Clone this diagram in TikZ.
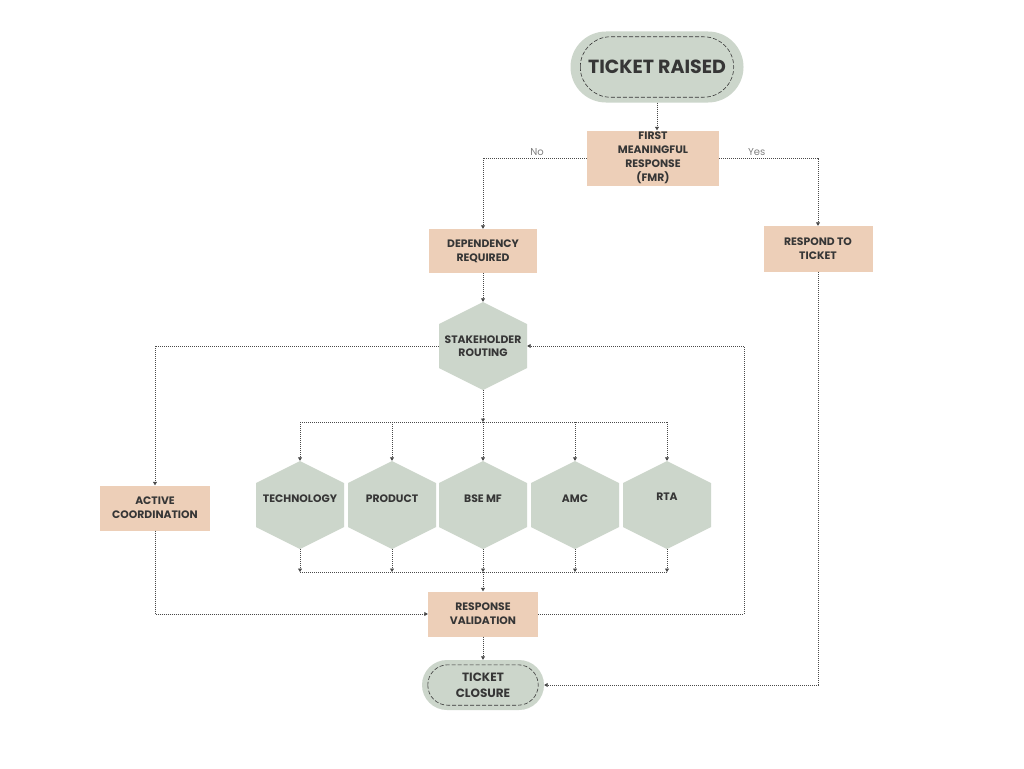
\documentclass[tikz,border=0pt]{standalone}
\usepackage{fontspec}
\setmainfont{Poppins}
\usetikzlibrary{arrows.meta}
\definecolor{peach}{HTML}{EDCFB8}
\definecolor{sage}{HTML}{CCD6CB}
\definecolor{ink}{HTML}{363636}
\definecolor{wire}{HTML}{4A4A4A}
\tikzset{
  box/.style={fill=peach, draw=none, align=center, text=ink, font=\fontsize{10.8}{14}\selectfont\bfseries, inner sep=0pt},
  hexa/.style={draw=none, minimum width=88pt, minimum height=88pt, inner sep=0pt, align=center, text=ink,
    font=\fontsize{10.8}{13.5}\selectfont\bfseries,
    path picture={\fill[sage] (path picture bounding box.north)
      -- ([yshift=-22pt]path picture bounding box.north east)
      -- ([yshift=22pt]path picture bounding box.south east)
      -- (path picture bounding box.south)
      -- ([yshift=22pt]path picture bounding box.south west)
      -- ([yshift=-22pt]path picture bounding box.north west) -- cycle;}},
  pill/.style={fill=sage, draw=none, align=center, text=ink, inner sep=0pt},
  conn/.style={draw=wire, line width=0.7pt, dash pattern=on 1pt off 1pt, -{Triangle[length=3.5pt,width=4pt]}},
  wireline/.style={draw=wire, line width=0.7pt, dash pattern=on 1pt off 1pt},
  lab/.style={text=gray, font=\fontsize{10}{11}\selectfont, inner sep=2pt}
}
\begin{document}
\begin{tikzpicture}[x=1pt,y=-1pt]
\useasboundingbox[fill=white] (0,0) rectangle (1024,768);

% terminals
\node[pill, minimum width=173pt, minimum height=71pt, rounded corners=35.5pt,
      font=\fontsize{19}{22}\selectfont\bfseries] (raised) at (657,67) {TICKET RAISED};
\draw[ink, line width=0.6pt, dash pattern=on 4pt off 2pt, rounded corners=30pt]
  ([xshift=10pt,yshift=-5.5pt]raised.north west) rectangle ([xshift=-10pt,yshift=5.5pt]raised.south east);

\node[pill, minimum width=122pt, minimum height=50pt, rounded corners=25pt,
      font=\fontsize{12}{16}\selectfont\bfseries] (closure) at (483,685) {TICKET\\CLOSURE};
\draw[ink, line width=0.6pt, dash pattern=on 4pt off 2pt, rounded corners=20pt]
  ([xshift=6pt,yshift=-5pt]closure.north west) rectangle ([xshift=-6pt,yshift=5pt]closure.south east);

% boxes
\node[box, minimum width=132pt, minimum height=55pt] (fmr) at (653,158) {FIRST\\MEANINGFUL\\RESPONSE\\(FMR)};
\node[box, minimum width=108pt, minimum height=44pt] (dep) at (483,251) {DEPENDENCY\\REQUIRED};
\node[box, minimum width=109pt, minimum height=46pt] (respond) at (818,249) {RESPOND TO\\TICKET};
\node[box, minimum width=110pt, minimum height=45pt] (active) at (155,508) {ACTIVE\\COORDINATION};
\node[box, minimum width=110pt, minimum height=45pt] (resp) at (483,614) {RESPONSE\\VALIDATION};

% hexagons
\node[hexa] (stake) at (483,346) {STAKEHOLDER\\ROUTING};
\node[hexa] (tech) at (300,505) {\raisebox{12pt}{TECHNOLOGY}};
\node[hexa] (prod) at (392,505) {\raisebox{12pt}{PRODUCT}};
\node[hexa] (bse) at (483,505) {\raisebox{12pt}{BSE MF}};
\node[hexa] (amc) at (575,505) {\raisebox{12pt}{AMC}};
\node[hexa] (rta) at (667,505) {\raisebox{16pt}{RTA}};

\coordinate (bus1) at (483,422);
\coordinate (bus2) at (483,572);
\coordinate (loop) at (744,614);

% connectors
\draw[conn] (raised.south) -- (raised.south |- fmr.north);
\draw[conn] (fmr.west) -| node[lab, pos=0.24, above] {No} (dep.north);
\draw[conn] (fmr.east) -| node[lab, pos=0.19, above] {Yes} (respond.north);
\draw[conn] (dep.south) -- (stake.north);
\draw[conn] (stake.west) -| (active.north);
\draw[conn] (stake.south) -- (bus1);
\draw[wireline] (tech.north |- bus1) -- (rta.north |- bus1);
\foreach \h in {tech,prod,bse,amc,rta}{
  \draw[conn] (\h.north |- bus1) -- (\h.north);
  \draw[conn] (\h.south) -- (\h.south |- bus2);
}
\draw[wireline] (tech.south |- bus2) -- (rta.south |- bus2);
\draw[conn] (bus2) -- (resp.north);
\draw[conn] (active.south) |- (resp.west);
\draw[conn] (resp.east) -- (loop) |- (stake.east);
\draw[conn] (resp.south) -- (closure.north);
\draw[conn] (respond.south) |- (closure.east);
\end{tikzpicture}
\end{document}
